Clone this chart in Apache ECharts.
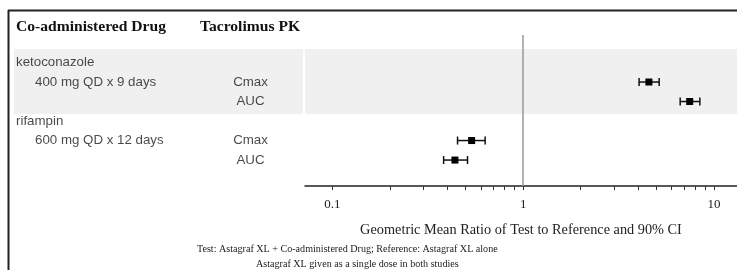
<!DOCTYPE html>
<html><head><meta charset="utf-8">
<script src="https://cdn.jsdelivr.net/npm/echarts@6/dist/echarts.min.js"></script>
<style>html,body{margin:0;padding:0;background:#fff}#chart{width:737px;height:270px}</style>
</head><body><div id="chart"></div>
<script>
// ---- data ----
const drugs = ['ketoconazole', 'rifampin'];
const regimens = ['400 mg QD x 9 days', '600 mg QD x 12 days'];
const pkParams = ['Cmax', 'AUC'];
// order: keto Cmax, keto AUC, rif Cmax, rif AUC
const gmrValues = [4.56, 7.46, 0.537, 0.439];
const ciLower = [4.05, 6.65, 0.453, 0.383];
const ciUpper = [5.16, 8.43, 0.632, 0.511];
const majorTicks = [0.1, 1, 10];
const minorTicks = [0.2, 0.3, 0.4, 0.5, 0.6, 0.7, 0.8, 0.9, 2, 3, 4, 5, 6, 7, 8, 9];
const refValue = 1;
const headerCols = ['Co-administered Drug', 'Tacrolimus PK'];
const axisTitle = 'Geometric Mean Ratio of Test to Reference and 90% CI';
const footnotes = ['Test: Astagraf XL + Co-administered Drug; Reference: Astagraf XL alone',
                   'Astagraf XL given as a single dose in both studies'];

// ---- layout ----
const L = Math.log10;
const xMin = L(0.0719), xMax = L(13.2);
const yMin = -1.41, yMax = 6.33;
const band = [-0.69, 2.64];
const serif = 'Liberation Serif';
const sans = 'Liberation Sans';

const textData = [];
drugs.forEach((d, i) => {
  textData.push({value: [2, 3 * i], label: {position: 'right', distance: 0, formatter: d}});
  textData.push({value: [21, 3 * i + 1], label: {position: 'right', distance: 0, formatter: regimens[i]}});
  pkParams.forEach((p, j) => {
    textData.push({value: [236.5, 3 * i + 1 + j], label: {position: 'inside', formatter: p}});
  });
});

const barData = gmrValues.map((g, k) => {
  const row = 3 * Math.floor(k / 2) + 1 + (k % 2);
  return [L(g), row, L(ciLower[k]), L(ciUpper[k])];
});

const allTicks = majorTicks.concat(minorTicks).sort((a, b) => a - b);

const chart = echarts.init(document.getElementById('chart'), null, {renderer: 'canvas'});
const yAx = (gi) => ({gridIndex: gi, type: 'value', min: yMin, max: yMax, inverse: true, show: false});

chart.setOption({
  animation: false,
  grid: [
    {left: 14, top: 35, width: 289, height: 151},
    {left: 305, top: 35, right: 0, height: 151}
  ],
  xAxis: [
    {gridIndex: 0, type: 'value', min: 0, max: 289, show: false},
    {gridIndex: 1, type: 'value', min: xMin, max: xMax, position: 'bottom',
      axisLine: {show: true, onZero: false, lineStyle: {color: '#222', width: 1.5}},
      splitLine: {show: false},
      axisTick: {show: true, length: 4, customValues: allTicks.map(L), lineStyle: {color: '#333', width: 1}},
      axisLabel: {customValues: majorTicks.map(L), formatter: v => String(+Math.pow(10, v).toPrecision(3)),
        margin: 12, color: '#222', fontFamily: serif, fontSize: 13},
      name: axisTitle, nameLocation: 'middle', nameGap: 37,
      nameTextStyle: {fontFamily: serif, fontSize: 14.3, color: '#222'}
    }
  ],
  yAxis: [yAx(0), yAx(1)],
  series: [
    {type: 'scatter', xAxisIndex: 0, yAxisIndex: 0, data: [], z: 1, silent: true,
      markArea: {silent: true, itemStyle: {color: '#f0f0f0'}, data: [[{yAxis: band[0]}, {yAxis: band[1]}]]}},
    {type: 'scatter', xAxisIndex: 1, yAxisIndex: 1, data: [], z: 1, silent: true,
      markArea: {silent: true, itemStyle: {color: '#f0f0f0'}, data: [[{yAxis: band[0]}, {yAxis: band[1]}]]}},
    {type: 'scatter', xAxisIndex: 1, yAxisIndex: 1, data: [], z: 3, silent: true,
      markLine: {silent: true, symbol: 'none', label: {show: false},
        lineStyle: {color: '#999', width: 1.5, type: 'solid'}, data: [{xAxis: L(refValue)}]}},
    {type: 'scatter', xAxisIndex: 0, yAxisIndex: 0, symbolSize: 0, z: 4, silent: true,
      label: {show: true, color: '#1a1a1a', fontFamily: sans, fontSize: 13.3},
      data: textData},
    {type: 'custom', xAxisIndex: 1, yAxisIndex: 1, z: 5, silent: true,
      encode: {x: [0, 2, 3], y: 1},
      data: barData,
      renderItem: (params, api) => {
        const y = api.value(1);
        const c = api.coord([api.value(0), y]);
        const lo = api.coord([api.value(2), y]);
        const hi = api.coord([api.value(3), y]);
        const st = {stroke: '#111', lineWidth: 1.5};
        return {type: 'group', children: [
          {type: 'line', shape: {x1: lo[0], y1: c[1], x2: hi[0], y2: c[1]}, style: st},
          {type: 'line', shape: {x1: lo[0], y1: c[1] - 4, x2: lo[0], y2: c[1] + 4}, style: st},
          {type: 'line', shape: {x1: hi[0], y1: c[1] - 4, x2: hi[0], y2: c[1] + 4}, style: st},
          {type: 'rect', shape: {x: c[0] - 3.5, y: c[1] - 3.5, width: 7, height: 7}, style: {fill: '#000'}}
        ]};
      }
    }
  ],
  graphic: [
    {type: 'line', shape: {x1: 8, y1: 10.5, x2: 737, y2: 10.5}, style: {stroke: '#222', lineWidth: 2}},
    {type: 'line', shape: {x1: 8.5, y1: 10, x2: 8.5, y2: 270}, style: {stroke: '#222', lineWidth: 2}},
    {type: 'text', x: 16, y: 27, style: {text: headerCols[0], font: 'bold 15.6px "Liberation Serif"', fill: '#111', verticalAlign: 'middle'}},
    {type: 'text', x: 200, y: 27, style: {text: headerCols[1], font: 'bold 15.6px "Liberation Serif"', fill: '#111', verticalAlign: 'middle'}},
    {type: 'text', x: 197, y: 249, style: {text: footnotes[0], font: '10.1px "Liberation Serif"', fill: '#222', align: 'left', verticalAlign: 'middle'}},
    {type: 'text', x: 256, y: 264, style: {text: footnotes[1], font: '10.1px "Liberation Serif"', fill: '#222', align: 'left', verticalAlign: 'middle'}}
  ]
});
</script>
</body></html>
